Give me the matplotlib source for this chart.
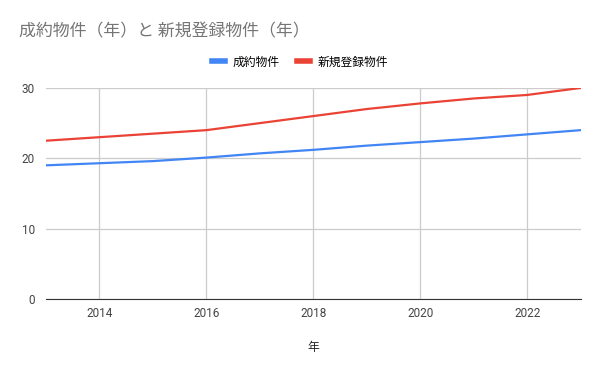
import matplotlib
matplotlib.use("Agg")
import matplotlib.pyplot as plt

plt.rcParams['font.family'] = ['Roboto', 'Noto Sans CJK JP', 'DejaVu Sans']

years = [2013, 2014, 2015, 2016, 2017, 2018, 2019, 2020, 2021, 2022, 2023]
seiyaku = [19.0, 19.3, 19.6, 20.1, 20.7, 21.2, 21.8, 22.3, 22.8, 23.4, 24.0]
shinki = [22.5, 23.0, 23.5, 24.0, 25.0, 26.0, 27.0, 27.8, 28.5, 29.0, 30.0]
xticks = [2014, 2016, 2018, 2020, 2022]
yticks = [0, 10, 20, 30]

fig = plt.figure(figsize=(6, 3.71), dpi=100)
ax = fig.add_axes([0.0767, 0.194, 0.891, 0.569])

ax.plot(years, seiyaku, color='#4285f4', lw=1.6, label='成約物件', zorder=3)
ax.plot(years, shinki, color='#ea4335', lw=1.6, label='新規登録物件', zorder=3)

ax.set_xlim(2013, 2023)
ax.set_ylim(0, 30)
ax.set_xticks(xticks)
ax.set_yticks(yticks)
ax.grid(True, color='#cccccc', lw=0.9)
for s in ['top', 'right', 'left']:
    ax.spines[s].set_visible(False)
ax.spines['bottom'].set_color('#333333')
ax.tick_params(length=0, labelsize=8.5, labelcolor='#444444')
ax.tick_params(axis='x', pad=6)
ax.tick_params(axis='y', pad=8)
ax.set_xlabel('年', fontsize=8.5, color='#222222', labelpad=15,
              family=['Noto Sans CJK JP', 'DejaVu Sans'])

fig.text(0.032, 0.915, '成約物件（年）と 新規登録物件（年）', fontsize=12.2, color='#757575',
         family=['Noto Sans CJK JP', 'DejaVu Sans'], va='center')
leg = fig.legend(loc='center', bbox_to_anchor=(0.5, 0.833), ncol=2, frameon=False,
                 prop={'family': ['Noto Sans CJK JP', 'DejaVu Sans'], 'size': 8.5},
                 handlelength=1.1, handletextpad=0.6, columnspacing=1.5)
for h in leg.legend_handles:
    h.set_linewidth(4)

fig.savefig('out.png', dpi=100, facecolor='white')
